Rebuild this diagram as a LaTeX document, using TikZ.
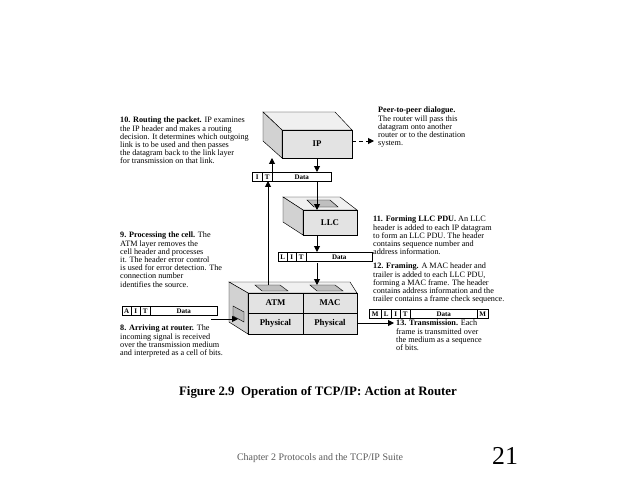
\documentclass[tikz,border=0pt]{standalone}
\usepackage{fontspec}
\setmainfont{Liberation Serif}
\usetikzlibrary{arrows.meta}
\tikzset{
  cell/.style={draw, anchor=north west, inner sep=0pt, minimum height=0.28cm, font=\fontsize{6}{6}\selectfont\bfseries},
  note/.style={anchor=north west, align=left, inner sep=0pt, font=\fontsize{7}{7}\selectfont},
  face/.style={draw, fill=gray!22},
  lay/.style={font=\fontsize{7.5}{8}\selectfont\bfseries, inner sep=0pt},
  flow/.style={-{Triangle[width=5pt,length=5pt]}, thick}
}
\begin{document}
\begin{tikzpicture}[x=0.03cm, y=-0.03cm]
    \useasboundingbox (0,0) rectangle (638,478);
    % IP box
    \draw [face, fill=gray!12] (263,112) -- (335,112) -- (352,130) -- (282,130) -- cycle;
    \draw [face, fill=gray!35] (263,112) -- (282,130) -- (282,158) -- (263,141) -- cycle;
    \draw [face] (282,130) rectangle (352,158);
    \node [lay] (ip) at (317,144) {IP};
    % LLC box
    \draw [face, fill=gray!12] (283,197) -- (340,197) -- (357,210) -- (303,210) -- cycle;
    \draw [fill=gray!50] (307,200) -- (330,200) -- (338,207) -- (314,207) -- cycle;
    \draw [face, fill=gray!35] (283,197) -- (303,210) -- (303,235) -- (283,222) -- cycle;
    \draw [face] (303,210) rectangle (357,235);
    \node [lay] (llc) at (330,223) {LLC};
    % ATM / MAC box
    \draw [face, fill=gray!12] (229,282) -- (350,282) -- (357,293) -- (248,293) -- cycle;
    \draw [fill=gray!50] (255,285) -- (280,285) -- (288,291) -- (262,291) -- cycle;
    \draw [fill=gray!50] (310,285) -- (335,285) -- (343,291) -- (317,291) -- cycle;
    \draw [face, fill=gray!35] (229,282) -- (248,293) -- (248,334) -- (229,322) -- cycle;
    \draw [fill=gray!55] (233,306) -- (244,312) -- (244,322) -- (233,316) -- cycle;
    \draw [face] (248,293) rectangle (303,313);
    \draw [face] (303,293) rectangle (357,313);
    \draw [face] (248,313) rectangle (303,334);
    \draw [face] (303,313) rectangle (357,334);
    \node [lay] (atm) at (275.5,303) {ATM};
    \node [lay] (mac) at (330,303) {MAC};
    \node [lay] (phA) at (275.5,323.5) {Physical};
    \node [lay] (phM) at (330,323.5) {Physical};
    \coordinate (inL) at (238,319);
    % PDU bars
    \node [cell, minimum width=0.3cm] (i1) at (252,172) {I};
    \node [cell, minimum width=0.3cm] (t1) at (262,172) {T};
    \node [cell, minimum width=1.77cm] (d1) at (272,172) {Data};
    \node [cell, minimum width=0.27cm] (l2) at (278,252) {L};
    \node [cell, minimum width=0.27cm] (i2) at (287,252) {I};
    \node [cell, minimum width=0.3cm] (t2) at (296,252) {T};
    \node [cell, minimum width=1.98cm] (d2) at (306,252) {Data};
    \node [cell, minimum width=0.27cm] (a3) at (122,306) {A};
    \node [cell, minimum width=0.27cm] (i3) at (131,306) {I};
    \node [cell, minimum width=0.3cm] (t3) at (140,306) {T};
    \node [cell, minimum width=2.01cm] (d3) at (150,306) {Data};
    \node [cell, minimum width=0.36cm] (m4) at (369,309) {M};
    \node [cell, minimum width=0.3cm] (l4) at (381,309) {L};
    \node [cell, minimum width=0.27cm] (i4) at (391,309) {I};
    \node [cell, minimum width=0.3cm] (t4) at (400,309) {T};
    \node [cell, minimum width=2.01cm] (d4) at (410,309) {Data};
    \node [cell, minimum width=0.33cm] (n4) at (477,309) {M};
    \coordinate (peer) at (374,141);
    \coordinate (inR) at (211,319);
    \coordinate (out) at (394,323);
    % connectors
    \draw [flow, dashed] (352,141) -- (peer);
    \draw [flow] (317,158) -- (317,172);
    \draw [flow] (d1.south -| 317,0) -- (317,210);
    \draw [flow] (317,235) -- (317,252);
    \draw [flow] (317,263) -- (317,285);
    \draw [flow] (268,285) -- (268,181);
    \draw [flow] (272,172) -- (272,158);
    \draw [flow] (inR) -- (inL);
    \draw [flow] (357,323) -- (out);
    % notes
    \node [note] (n10) at (120,117) {\textbf{10. Routing the packet.} IP examines\\the IP header and makes a routing\\decision. It determines which outgoing\\link is to be used and then passes\\the datagram back to the link layer\\for transmission on that link.};
    \node [note] (npeer) at (378,107) {\textbf{Peer-to-peer dialogue.}\\The router will pass this\\datagram onto another\\router or to the destination\\system.};
    \node [note] (n9) at (120,232) {\textbf{9. Processing the cell.} The\\ATM layer removes the\\cell header and processes\\it. The header error control\\ is used for error detection. The\\connection number\\identifies the source.};
    \node [note] (n11) at (373,216) {\textbf{11. Forming LLC PDU.} An LLC\\header is added to each IP datagram\\to form an LLC PDU. The header\\contains sequence number and\\address information.};
    \node [note] (n12) at (373,263) {\textbf{12. Framing.} A MAC header and\\trailer is added to each LLC PDU,\\forming a MAC frame. The header\\contains address information and the\\trailer contains a frame check sequence.};
    \node [note] (n8) at (120,325) {\textbf{8. Arriving at router.} The\\incoming signal is received\\over the transmission medium\\and interpreted as a cell of bits.};
    \node [note] (n13) at (396,320) {\textbf{13. Transmission.} Each\\frame is transmitted over\\the medium as a sequence\\of bits.};
    \node [font=\fontsize{11}{13}\selectfont\bfseries] (cap) at (318,392) {Figure 2.9\enspace Operation of TCP/IP: Action at Router};
    \node [font=\fontsize{8.5}{10}\selectfont, text=gray!70!black] (foot) at (320,458) {Chapter 2 Protocols and the TCP/IP Suite};
    \node [font=\fontsize{22}{24}\selectfont] (page) at (505,456) {21};
\end{tikzpicture}
\end{document}
